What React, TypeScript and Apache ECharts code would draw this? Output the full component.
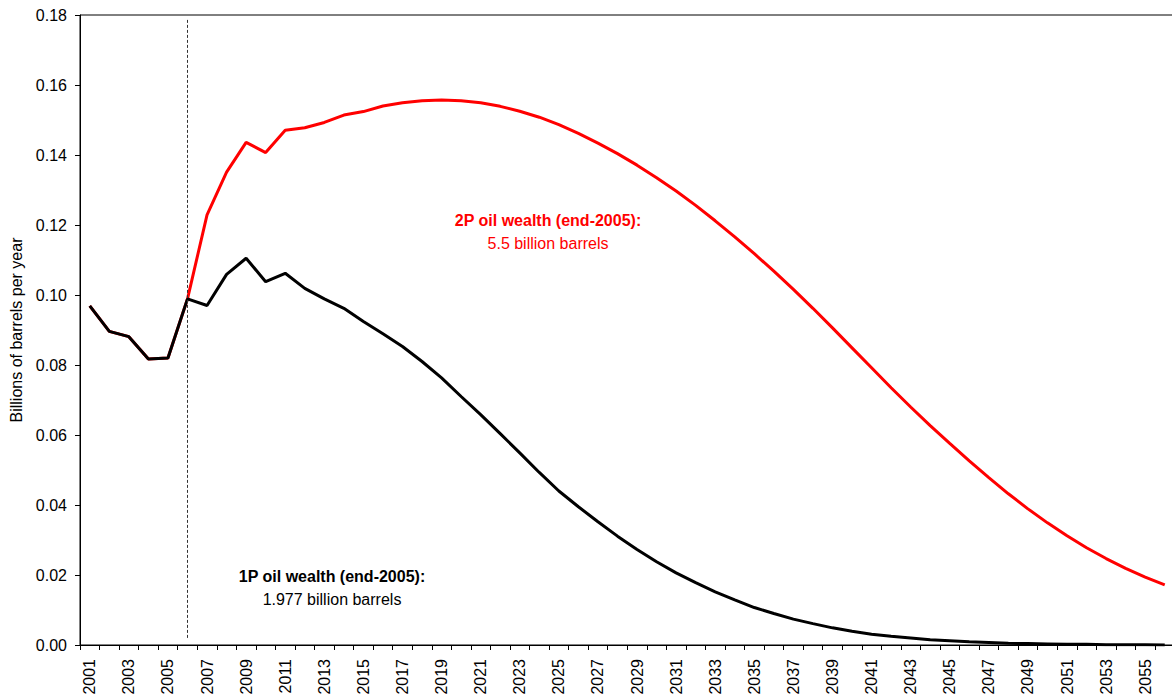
import React, { useEffect, useRef } from "react";
import * as echarts from "echarts";

const years = [
  "2001", "2002", "2003", "2004", "2005", "2006", "2007", "2008", "2009", "2010",
  "2011", "2012", "2013", "2014", "2015", "2016", "2017", "2018", "2019", "2020",
  "2021", "2022", "2023", "2024", "2025", "2026", "2027", "2028", "2029", "2030",
  "2031", "2032", "2033", "2034", "2035", "2036", "2037", "2038", "2039", "2040",
  "2041", "2042", "2043", "2044", "2045", "2046", "2047", "2048", "2049", "2050",
  "2051", "2052", "2053", "2054", "2055", "2056",
];

const oil1P = [
  0.0969, 0.0896, 0.0881, 0.0817, 0.0820, 0.0989, 0.0970, 0.1059, 0.1105, 0.1038,
  0.1062, 0.1019, 0.0989, 0.0962, 0.0924, 0.0889, 0.0853, 0.0810, 0.0763, 0.0710,
  0.0658, 0.0604, 0.0549, 0.0493, 0.0440, 0.0395, 0.0352, 0.0311, 0.0273, 0.0238,
  0.0206, 0.0178, 0.0152, 0.0129, 0.0107, 0.0090, 0.0074, 0.0061, 0.0049, 0.0039,
  0.0031, 0.0025, 0.0020, 0.0015, 0.0012, 0.0009, 0.0007, 0.0005, 0.0004, 0.0003,
  0.0002, 0.0002, 0.0001, 0.0001, 0.0001, 0.0000,
];

const oil2P = [
  0.0969, 0.0896, 0.0881, 0.0817, 0.0820, 0.0989, 0.1229, 0.1351, 0.1436, 0.1407,
  0.1471, 0.1478, 0.1493, 0.1514, 0.1524, 0.1540, 0.1549, 0.1555, 0.1557, 0.1555,
  0.1549, 0.1539, 0.1525, 0.1508, 0.1487, 0.1462, 0.1434, 0.1404, 0.1371, 0.1335,
  0.1297, 0.1256, 0.1212, 0.1166, 0.1118, 0.1068, 0.1016, 0.0962, 0.0906, 0.0849,
  0.0792, 0.0735, 0.0680, 0.0627, 0.0576, 0.0526, 0.0478, 0.0432, 0.0389, 0.0349,
  0.0312, 0.0278, 0.0247, 0.0219, 0.0194, 0.0172,
];

const yTicks = { min: 0, max: 0.18, interval: 0.02 };
const yAxisTitle = "Billions of barrels per year";
const label2P = ["2P oil wealth (end-2005):", "5.5 billion barrels"];
const label1P = ["1P oil wealth (end-2005):", "1.977 billion barrels"];
const markerYear = "2006";

const FONT = "'Liberation Sans', Arial, Helvetica, sans-serif";

export default function App() {
  const ref = useRef<HTMLDivElement>(null);

  useEffect(() => {
    if (!ref.current) return;
    const chart = echarts.init(ref.current, undefined, { renderer: "svg" });
    chart.setOption({
      animation: false,
      backgroundColor: "#ffffff",
      textStyle: { fontFamily: FONT },
      grid: {
        left: 80,
        top: 15,
        right: 0.5,
        bottom: 53,
        containLabel: false,
        outerBoundsMode: "none",
        show: true,
        borderColor: "#000",
        borderWidth: 1,
        backgroundColor: "transparent",
      },
      xAxis: {
        type: "category",
        data: years,
        boundaryGap: true,
        axisLine: { lineStyle: { color: "#000", width: 1 } },
        axisTick: { show: true, interval: 0, length: 5, lineStyle: { color: "#000" } },
        axisLabel: {
          interval: 1,
          rotate: 90,
          margin: 14,
          fontSize: 16,
          color: "#000",
          fontFamily: FONT,
        },
        splitLine: { show: false },
      },
      yAxis: {
        type: "value",
        min: yTicks.min,
        max: yTicks.max,
        interval: yTicks.interval,
        name: yAxisTitle,
        nameLocation: "middle",
        nameGap: 54,
        nameRotate: 90,
        nameTextStyle: { fontSize: 16, color: "#000", fontFamily: FONT },
        axisLine: { show: true, lineStyle: { color: "#000", width: 1 } },
        axisTick: { show: true, length: 5, lineStyle: { color: "#000" } },
        axisLabel: {
          margin: 13,
          fontSize: 16,
          color: "#000",
          fontFamily: FONT,
          formatter: (v: number) => v.toFixed(2),
        },
        splitLine: { show: false },
      },
      series: [
        {
          name: "2P",
          type: "line",
          data: oil2P,
          symbol: "none",
          lineStyle: { color: "#ff0000", width: 3 },
          itemStyle: { color: "#ff0000" },
          z: 2,
        },
        {
          name: "1P",
          type: "line",
          data: oil1P,
          symbol: "none",
          lineStyle: { color: "#000000", width: 3 },
          itemStyle: { color: "#000000" },
          z: 3,
          markLine: {
            silent: true,
            symbol: "none",
            label: { show: false },
            lineStyle: { color: "#333", width: 1, type: [3, 2] },
            data: [[{ coord: [markerYear, 0.1786] }, { coord: [markerYear, 0.002] }]],
          },
        },
      ],
      graphic: [
        {
          type: "text",
          x: 548,
          y: 212,
          style: {
            text: label2P[0],
            fill: "#ff0000",
            font: `bold 16px ${FONT}`,
            textAlign: "center",
          },
        },
        {
          type: "text",
          x: 548,
          y: 235,
          style: {
            text: label2P[1],
            fill: "#ff0000",
            font: `16px ${FONT}`,
            textAlign: "center",
          },
        },
        {
          type: "text",
          x: 332,
          y: 568,
          style: {
            text: label1P[0],
            fill: "#000",
            font: `bold 16px ${FONT}`,
            textAlign: "center",
          },
        },
        {
          type: "text",
          x: 332,
          y: 591,
          style: {
            text: label1P[1],
            fill: "#000",
            font: `16px ${FONT}`,
            textAlign: "center",
          },
        },
      ],
    });
    return () => chart.dispose();
  }, []);

  return (
    <div
      ref={ref}
      style={{ position: "absolute", left: 0, top: 0, width: 1175, height: 698 }}
    />
  );
}
